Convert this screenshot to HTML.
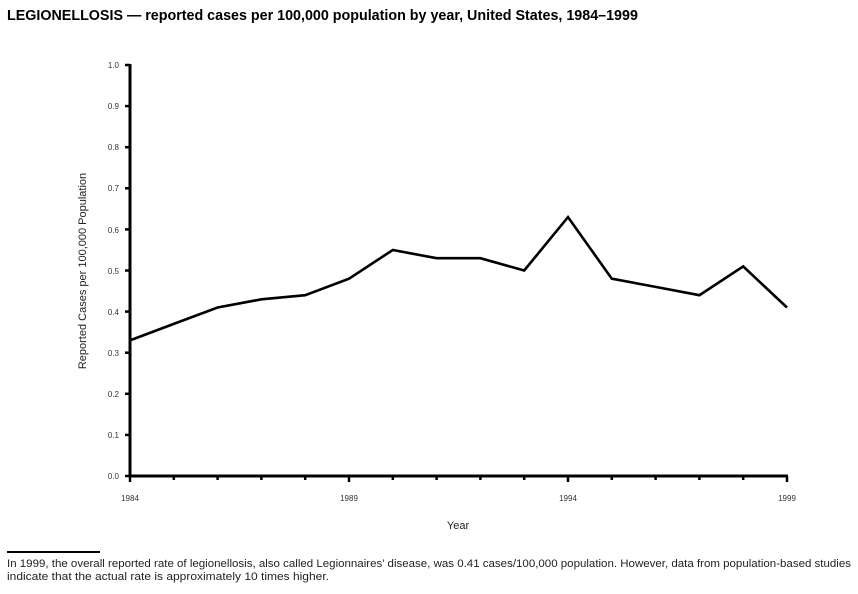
<!DOCTYPE html>
<html><head><meta charset="utf-8"><style>
body{margin:0;background:#fff;width:858px;height:589px;overflow:hidden;font-family:"Liberation Sans",sans-serif}
</style></head><body>
<svg width="858" height="589" viewBox="0 0 858 589" xmlns="http://www.w3.org/2000/svg" font-family="Liberation Sans, sans-serif">
<text x="7" y="20" font-size="14.3" font-weight="bold" fill="#000">LEGIONELLOSIS — reported cases per 100,000 population by year, United States, 1984–1999</text>
<g stroke="#000" stroke-width="3" fill="none">
<line x1="130" y1="64" x2="130" y2="477"/>
<line x1="129" y1="476" x2="788" y2="476"/>
</g>
<g stroke="#000" stroke-width="2.5">
<line x1="125" y1="476" x2="130" y2="476"/>
<line x1="125" y1="434.9" x2="130" y2="434.9"/>
<line x1="125" y1="393.8" x2="130" y2="393.8"/>
<line x1="125" y1="352.7" x2="130" y2="352.7"/>
<line x1="125" y1="311.6" x2="130" y2="311.6"/>
<line x1="125" y1="270.5" x2="130" y2="270.5"/>
<line x1="125" y1="229.4" x2="130" y2="229.4"/>
<line x1="125" y1="188.3" x2="130" y2="188.3"/>
<line x1="125" y1="147.2" x2="130" y2="147.2"/>
<line x1="125" y1="106.1" x2="130" y2="106.1"/>
<line x1="125" y1="65" x2="130" y2="65"/>
<line x1="130" y1="476" x2="130" y2="482"/>
<line x1="173.8" y1="476" x2="173.8" y2="480"/>
<line x1="217.6" y1="476" x2="217.6" y2="480"/>
<line x1="261.4" y1="476" x2="261.4" y2="480"/>
<line x1="305.2" y1="476" x2="305.2" y2="480"/>
<line x1="349" y1="476" x2="349" y2="482"/>
<line x1="392.8" y1="476" x2="392.8" y2="480"/>
<line x1="436.6" y1="476" x2="436.6" y2="480"/>
<line x1="480.4" y1="476" x2="480.4" y2="480"/>
<line x1="524.2" y1="476" x2="524.2" y2="480"/>
<line x1="568" y1="476" x2="568" y2="482"/>
<line x1="611.8" y1="476" x2="611.8" y2="480"/>
<line x1="655.6" y1="476" x2="655.6" y2="480"/>
<line x1="699.4" y1="476" x2="699.4" y2="480"/>
<line x1="743.2" y1="476" x2="743.2" y2="480"/>
<line x1="787" y1="476" x2="787" y2="482"/>
</g>
<g font-size="8" fill="#333" text-anchor="end">
<text x="119" y="479">0.0</text><text x="119" y="438">0.1</text><text x="119" y="397">0.2</text><text x="119" y="356">0.3</text><text x="119" y="315">0.4</text><text x="119" y="274">0.5</text><text x="119" y="233">0.6</text><text x="119" y="191">0.7</text><text x="119" y="150">0.8</text><text x="119" y="109">0.9</text><text x="119" y="68">1.0</text>
</g>
<g font-size="8" fill="#333" text-anchor="middle">
<text x="130" y="501">1984</text><text x="349" y="501">1989</text><text x="568" y="501">1994</text><text x="787" y="501">1999</text>
</g>
<text x="458" y="529" font-size="11" text-anchor="middle" fill="#222">Year</text>
<text transform="translate(86,271) rotate(-90)" font-size="11" text-anchor="middle" fill="#222">Reported Cases per 100,000 Population</text>
<polyline fill="none" stroke="#000" stroke-width="2.6" stroke-linejoin="miter" points="130,340.4 173.8,323.9 217.6,307.5 261.4,299.3 305.2,295.2 349,278.7 392.8,250 436.6,258.2 480.4,258.2 524.2,270.5 568,217.1 611.8,278.7 655.6,286.9 699.4,295.2 743.2,266.4 787,307.5"/>
<line x1="7" y1="552" x2="100" y2="552" stroke="#000" stroke-width="2"/>
<text x="7" y="567" font-size="11" fill="#222" textLength="844" lengthAdjust="spacingAndGlyphs">In 1999, the overall reported rate of legionellosis, also called Legionnaires’ disease, was 0.41 cases/100,000 population. However, data from population-based studies</text>
<text x="7" y="580" font-size="11" fill="#222" textLength="322" lengthAdjust="spacingAndGlyphs">indicate that the actual rate is approximately 10 times higher.</text>
</svg>
</body></html>
